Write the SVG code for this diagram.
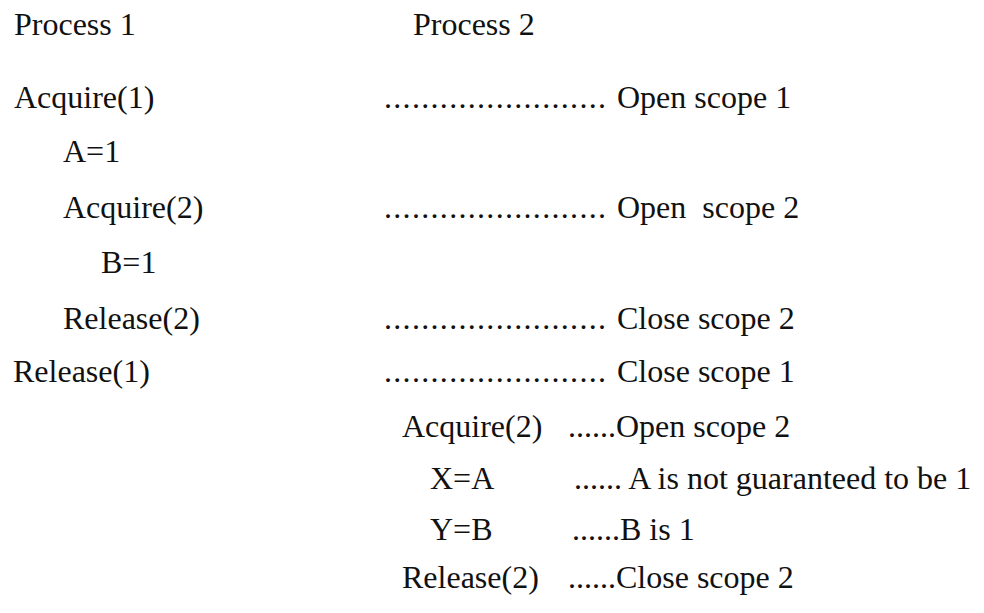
<svg xmlns="http://www.w3.org/2000/svg" width="984" height="613" viewBox="0 0 984 613">
<style>
text{font-family:"Liberation Serif","Times New Roman",serif;font-size:32px;fill:#111}
</style>
<rect width="984" height="613" fill="#fff"/>
<g id="headers">
<text x="14" y="35">Process 1</text>
<text x="413" y="35">Process 2</text>
</g>
<g id="process1">
<text x="14" y="108">Acquire(1)</text>
<text x="63" y="162">A=1</text>
<text x="63" y="218">Acquire(2)</text>
<text x="101" y="273">B=1</text>
<text x="63" y="329">Release(2)</text>
<text x="13" y="382">Release(1)</text>
</g>
<g id="scopes">
<text y="108"><tspan x="384" textLength="222" lengthAdjust="spacing">........................</tspan><tspan x="617">Open scope 1</tspan></text>
<text y="218"><tspan x="384" textLength="222" lengthAdjust="spacing">........................</tspan><tspan x="617">Open&#160; scope 2</tspan></text>
<text y="329"><tspan x="384" textLength="222" lengthAdjust="spacing">........................</tspan><tspan x="617">Close scope 2</tspan></text>
<text y="382"><tspan x="384" textLength="222" lengthAdjust="spacing">........................</tspan><tspan x="617">Close scope 1</tspan></text>
</g>
<g id="process2">
<text y="437"><tspan x="402">Acquire(2)</tspan><tspan x="568">......Open scope 2</tspan></text>
<text y="489"><tspan x="430">X=A</tspan><tspan x="574">...... A is not guaranteed to be 1</tspan></text>
<text y="540"><tspan x="430">Y=B</tspan><tspan x="572">......B is 1</tspan></text>
<text y="588"><tspan x="402">Release(2)</tspan><tspan x="568">......Close scope 2</tspan></text>
</g>
</svg>
